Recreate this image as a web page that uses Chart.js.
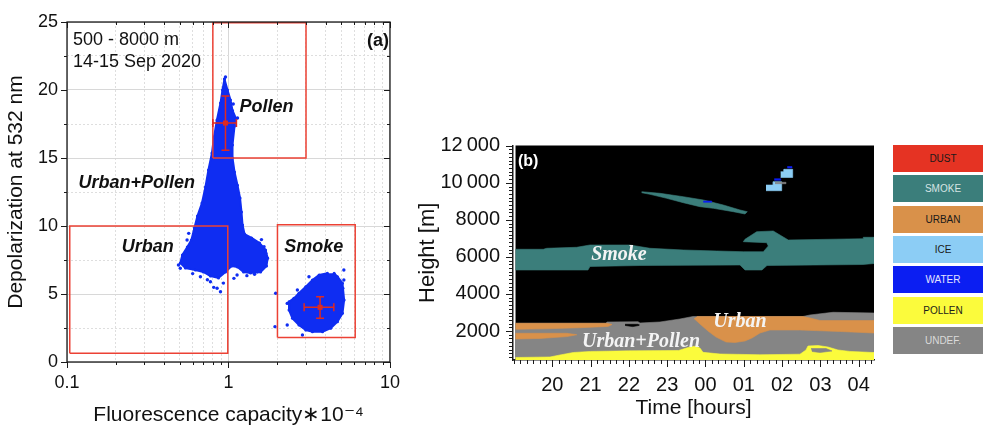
<!DOCTYPE html>
<html>
<head>
<meta charset="utf-8">
<script src="https://cdn.jsdelivr.net/npm/chart.js@4/dist/chart.umd.min.js"></script>
<style>
html,body{margin:0;padding:0;background:#fff;width:983px;height:428px;overflow:hidden;}
#ca{position:absolute;left:0;top:0;}
#cb{position:absolute;left:400px;top:0;}
.lg{position:absolute;left:893px;width:100px;height:27px;font:10px "Liberation Sans",Arial,sans-serif;display:flex;align-items:center;justify-content:center;}
</style>
</head>
<body>
<canvas id="ca" width="404" height="428"></canvas>
<canvas id="cb" width="480" height="428"></canvas>
<div id="legend"></div>
<script>
// ================= Panel (a) data =================
const fluorTickValues = [0.1,0.2,0.3,0.4,0.5,0.6,0.7,0.8,0.9,1,2,3,4,5,6,7,8,9,10];
const fluorMajorTicks = [0.1, 1, 10];
const fluorTickLabels = ['0.1', '1', '10'];
const depolMajorTicks = [0, 5, 10, 15, 20, 25];

// outline of the dense Urban+Pollen point cloud
const urbanPollenCloudX = [0.944,0.986,1.029,1.059,1.113,1.09,1.059,1.059,1.09,1.137,1.179,1.204,1.222,1.257,1.39,1.557,1.697,1.747,1.72,1.58,1.37,1.24,1.137,1.044,0.958,0.867,0.773,0.699,0.624,0.541,0.503,0.518,0.556,0.589,0.615,0.642,0.685,0.72,0.751,0.79,0.813,0.848,0.892,0.918,0.944];
const urbanPollenCloudY = [20.8,20.0,19.26,18.5,17.9,17.35,15.96,15.0,13.97,13.0,12.06,11.03,10.07,9.41,9.12,8.75,8.24,7.65,7.06,6.62,6.54,6.62,6.99,7.06,6.62,6.18,6.32,6.62,6.76,6.91,7.28,7.87,8.46,8.97,9.85,10.74,11.69,12.87,14.12,15.37,16.54,17.79,19.04,20.0,20.8];
// outline of the dense Smoke point cloud
const smokeCloudX = [4.51,4.73,5.08,5.2,5.08,4.73,4.3,3.82,3.31,3.01,2.73,2.49,2.37,2.37,2.54,2.73,3.01,3.31,3.64,4.1];
const smokeCloudY = [6.52,6.27,5.79,4.56,3.58,2.96,2.48,2.23,2.23,2.35,2.72,3.21,3.82,4.43,4.68,5.05,5.54,6.03,6.4,6.52];
// isolated points around the clouds
const strayX = [0.892,0.81,0.773,0.67,0.503,0.49,1.08,1.13,1.66,1.74,1.51,0.554,0.567,0.85,0.958,1.07,1.137,1.96,1.94,2.67,2.31,2.87,5.18,5.18,5.1,3.15,2.31,0.6,1.3,1.6,0.93,0.74,1.45,1.7];
const strayY = [5.17,5.49,5.9,6.27,6.89,7.13,6.15,6.4,8.48,7.62,6.64,8.97,9.46,5.42,20.96,18.97,17.94,5.05,2.6,5.29,2.72,1.99,6.03,6.76,5.42,6.27,4.31,6.5,6.35,9.0,5.8,6.05,6.45,8.0];

// classification boxes
const pollenBoxX = [0.8, 3.02, 3.02, 0.8, 0.8];
const pollenBoxY = [15, 15, 24.95, 24.95, 15];
const urbanBoxX  = [0.104, 0.99, 0.99, 0.104, 0.104];
const urbanBoxY  = [0.65, 0.65, 10, 10, 0.65];
const smokeBoxX  = [2.01, 6.09, 6.09, 2.01, 2.01];
const smokeBoxY  = [1.8, 1.8, 10.1, 10.1, 1.8];

// mean values with spread
const meanX   = [0.958, 3.69];
const meanXLo = [0.80, 2.94];
const meanXHi = [1.12, 4.49];
const meanY   = [17.57, 4.02];
const meanYLo = [15.57, 3.21];
const meanYHi = [19.56, 4.80];

const aLabels = [
  {text: 'Pollen', x: 1.72, y: 18.77},
  {text: 'Urban+Pollen', x: 0.27, y: 13.16},
  {text: 'Urban', x: 0.316, y: 8.48},
  {text: 'Smoke', x: 3.37, y: 8.48}
];

// ================= Panel (b) data =================
const hourTickValues = [20, 21, 22, 23, 24, 25, 26, 27, 28];
const hourTickLabels = ['20', '21', '22', '23', '00', '01', '02', '03', '04'];
const heightTickValues = [2000, 4000, 6000, 8000, 10000, 12000];
const heightTickLabels = ['2000', '4000', '6000', '8000', '10\u2009000', '12\u2009000'];
const imageStartHour = 19.04;

const smokeLayer = [[19.04,6412],[19.765,6412],[19.854,6466],[20.637,6520],[20.984,6644],[22.029,6644],[22.551,6466],[23.42,6374],[24.292,6320],[24.987,6282],[25.509,6282],[25.64,6590],[25.598,6768],[24.987,6822],[25.031,6951],[25.337,7362],[25.77,7399],[26.162,6914],[28.12,6984],[28.12,7059],[28.4,7059],[28.4,5645],[28.112,5591],[25.606,5537],[25.475,5295],[25.031,5295],[24.901,5564],[22.29,5537],[20.984,5483],[20.932,5295],[19.04,5295]];
const smokeStreak = [[22.334,9520],[22.812,9434],[23.42,9250],[23.943,9072],[24.465,8803],[24.901,8533],[25.091,8441],[25.031,8317],[24.726,8441],[24.204,8624],[23.856,8711],[23.42,8927],[22.987,9164],[22.551,9380],[22.334,9466]];
const iceUpper = [[25.963,10287],[26.277,10287],[26.277,10729],[26.05,10729],[26.05,10600],[25.963,10600]];
const iceLower = [[25.58,9574],[25.99,9574],[25.99,10060],[25.77,10060],[25.77,9882],[25.58,9882]];
const waterStreak = [[23.943,8948],[24.162,8948],[24.162,9018],[23.943,9018]];
const waterUpper = [[26.136,10799],[26.259,10799],[26.259,10880],[26.136,10880]];
const waterLower = [[25.796,10135],[25.963,10135],[25.963,10222],[25.796,10222]];
const undefIce = [[25.815,9952],[26.102,9952],[26.102,10028],[25.815,10028]];
const undefLayer = [[19.04,2418],[21.402,2418],[21.428,2488],[22.238,2504],[22.29,2434],[22.812,2488],[23.334,2650],[23.674,2785],[26.546,2785],[26.729,2866],[27.329,3012],[28.4,2974],[28.4,300],[19.04,300]];
const clearWedge = [[21.90,2364],[22.24,2364],[22.26,2300],[22.1,2240],[21.90,2300]];
const urbanUpperLeft = [[19.04,2418],[21.428,2418],[21.559,2353],[21.454,2250],[20.723,2180],[19.809,2120],[19.04,2094]];
const urbanLowerLeft = [[19.04,1878],[20.38,1878],[20.64,1800],[20.38,1700],[19.679,1600],[19.04,1570]];
const urbanRight = [[23.778,2785],[26.546,2785],[26.729,2704],[26.99,2569],[28.4,2569],[28.4,1894],[27.511,1975],[26.467,2056],[25.684,2056],[25.423,1894],[25.214,1625],[25.031,1463],[24.77,1382],[24.536,1409],[24.274,1678],[24.065,2002],[23.856,2380],[23.7,2677]];
const pollenLayer = [[19.04,572],[19.94,599],[20.2,707],[20.55,842],[21.0,900],[22.0,930],[23.3,950],[23.5,1080],[23.6,1140],[23.726,1180],[23.856,1080],[23.935,850],[24.379,760],[25.423,720],[26.467,750],[26.624,977],[26.676,1193],[26.937,1220],[27.198,1139],[27.459,977],[27.773,900],[28.4,840],[28.4,300],[19.04,300]];
const undefWedge = [[26.755,1058],[27.146,1058],[27.303,923],[26.99,842],[26.781,896]];

const bLabels = [
  {text: 'Smoke', h: 21.74, m: 6104},
  {text: 'Urban+Pollen', h: 22.316, m: 1409},
  {text: 'Urban', h: 24.90, m: 2488}
];

const legendNames = ['DUST', 'SMOKE', 'URBAN', 'ICE', 'WATER', 'POLLEN', 'UNDEF.'];

// ================= styles =================
const SANS = "'Liberation Sans', Arial, sans-serif";
const SERIF = "'Liberation Serif', 'Times New Roman', serif";
const BLUE = '#0f2df2';
const BOXRED = '#ec4134';
const ERRRED = '#e02a20';
const C = {
  dust: '#e53323', smoke: '#3b7e7b', urban: '#d9914a', ice: '#8ccdf5',
  water: '#0b1ef2', pollen: '#fbfb3c', undef: '#858585'
};
const legendColors = [C.dust, C.smoke, C.urban, C.ice, C.water, C.pollen, C.undef];
const legendTextColors = ['#1a1a1a', '#d6e4e4', '#1a1a1a', '#1a1a1a', '#e4e4ff', '#1a1a1a', '#dadada'];

const pts = (xs, ys) => xs.map((x, i) => ({x, y: ys[i]}));
const pairs = arr => arr.map(p => ({x: p[0], y: p[1]}));

// ================= Panel (a) chart =================
const decorA = {
  id: 'decorA',
  afterDatasetsDraw(chart) {
    const {ctx, chartArea: a, scales: {x, y}} = chart;
    ctx.save();
    // error bars
    ctx.strokeStyle = ERRRED; ctx.fillStyle = ERRRED; ctx.lineWidth = 1.5;
    for (let i = 0; i < meanX.length; i++) {
      const cx = x.getPixelForValue(meanX[i]), cy = y.getPixelForValue(meanY[i]);
      const x0 = x.getPixelForValue(meanXLo[i]), x1 = x.getPixelForValue(meanXHi[i]);
      const y0 = y.getPixelForValue(meanYLo[i]), y1 = y.getPixelForValue(meanYHi[i]);
      ctx.beginPath();
      ctx.moveTo(x0, cy); ctx.lineTo(x1, cy);
      ctx.moveTo(cx, y0); ctx.lineTo(cx, y1);
      ctx.moveTo(x0, cy - 4); ctx.lineTo(x0, cy + 4);
      ctx.moveTo(x1, cy - 4); ctx.lineTo(x1, cy + 4);
      ctx.moveTo(cx - 4, y0); ctx.lineTo(cx + 4, y0);
      ctx.moveTo(cx - 4, y1); ctx.lineTo(cx + 4, y1);
      ctx.stroke();
      ctx.fillRect(cx - 2.5, cy - 2.5, 5, 5);
    }
    // tick marks and frame
    ctx.strokeStyle = '#1a1a1a'; ctx.lineWidth = 1;
    ctx.beginPath();
    x.ticks.forEach(t => {
      const px = Math.round(x.getPixelForValue(t.value)) + 0.5;
      const L = fluorMajorTicks.includes(t.value) ? 6 : 3;
      ctx.moveTo(px, a.bottom); ctx.lineTo(px, a.bottom + L);
      ctx.moveTo(px, a.top); ctx.lineTo(px, a.top + L);
    });
    y.ticks.forEach(t => {
      const py = Math.round(y.getPixelForValue(t.value)) + 0.5;
      const L = depolMajorTicks.includes(t.value) ? 6 : 3;
      ctx.moveTo(a.left - L, py); ctx.lineTo(a.left, py);
      ctx.moveTo(a.right - L, py); ctx.lineTo(a.right, py);
    });
    ctx.stroke();
    ctx.lineWidth = 1.3;
    ctx.strokeRect(a.left, a.top, a.right - a.left, a.bottom - a.top);
    // texts
    ctx.fillStyle = '#111';
    ctx.textBaseline = 'middle';
    ctx.textAlign = 'center';
    ctx.font = 'italic bold 18px ' + SANS;
    aLabels.forEach(l => ctx.fillText(l.text, x.getPixelForValue(l.x), y.getPixelForValue(l.y)));
    ctx.textAlign = 'left';
    ctx.font = '18px ' + SANS;
    ctx.fillText('500 - 8000 m', a.left + 6, a.top + 18);
    ctx.fillText('14-15 Sep 2020', a.left + 6, a.top + 40);
    ctx.textAlign = 'center';
    ctx.font = 'bold 18px ' + SANS;
    ctx.fillText('(a)', a.right - 12, a.top + 19);
    ctx.restore();
  }
};

const isMajorX = c => c.tick && fluorMajorTicks.includes(c.tick.value);
const isMajorY = c => c.tick && depolMajorTicks.includes(c.tick.value);

new Chart(document.getElementById('ca'), {
  type: 'scatter',
  data: {
    datasets: [
      {data: pts(pollenBoxX, pollenBoxY), showLine: true, fill: false, borderColor: BOXRED, borderWidth: 1.5, pointRadius: 0, order: 1},
      {data: pts(urbanBoxX, urbanBoxY), showLine: true, fill: false, borderColor: BOXRED, borderWidth: 1.5, pointRadius: 0, order: 1},
      {data: pts(smokeBoxX, smokeBoxY), showLine: true, fill: false, borderColor: BOXRED, borderWidth: 1.5, pointRadius: 0, order: 1},
      {data: pts(strayX, strayY), showLine: false, pointRadius: 1.7, pointBackgroundColor: BLUE, pointBorderWidth: 0, order: 2},
      {data: pts(urbanPollenCloudX, urbanPollenCloudY), showLine: true, fill: 'shape', backgroundColor: BLUE, borderColor: BLUE, borderWidth: 2, pointRadius: 1.5, pointBackgroundColor: BLUE, pointBorderWidth: 0, order: 3},
      {data: pts(smokeCloudX, smokeCloudY), showLine: true, fill: 'shape', backgroundColor: BLUE, borderColor: BLUE, borderWidth: 2, pointRadius: 1.5, pointBackgroundColor: BLUE, pointBorderWidth: 0, order: 3}
    ]
  },
  options: {
    responsive: false, animation: false, events: [],
    layout: {padding: {left: 0, right: 11, top: 22, bottom: 0}},
    plugins: {legend: {display: false}, tooltip: {enabled: false}},
    scales: {
      x: {
        type: 'logarithmic', min: 0.1, max: 10, position: 'bottom',
        afterBuildTicks: s => { s.ticks = fluorTickValues.map(v => ({value: v, major: fluorMajorTicks.includes(v)})); },
        afterFit: s => { s.height = 66; },
        ticks: {
          autoSkip: false, maxRotation: 0, padding: 4, color: '#111', font: {family: SANS, size: 18},
          callback: v => { const i = fluorMajorTicks.indexOf(v); return i >= 0 ? fluorTickLabels[i] : ''; }
        },
        grid: {color: c => isMajorX(c) ? '#d8d8d8' : '#dedede', lineWidth: 1, drawTicks: true, tickLength: 6, tickColor: 'rgba(0,0,0,0)'},
        border: {display: false, dash: c => isMajorX(c) ? [] : [2, 2]},
        title: {display: true, text: 'Fluorescence capacity\u221710\u207B\u2074', color: '#111', font: {family: SANS, size: 21}, padding: {top: 0, bottom: 0}}
      },
      y: {
        type: 'linear', min: 0, max: 25,
        afterFit: s => { s.width = 67; },
        ticks: {
          stepSize: 2.5, autoSkip: false, padding: 3, color: '#111', font: {family: SANS, size: 18},
          callback: v => depolMajorTicks.includes(v) ? String(v) : ''
        },
        grid: {color: c => isMajorY(c) ? '#d8d8d8' : '#dedede', lineWidth: 1, drawTicks: true, tickLength: 6, tickColor: 'rgba(0,0,0,0)'},
        border: {display: false, dash: c => isMajorY(c) ? [] : [2, 2]},
        title: {display: true, text: 'Depolarization at 532 nm', color: '#111', font: {family: SANS, size: 21}, padding: {top: 4, bottom: 0}}
      }
    }
  },
  plugins: [decorA]
});

// ================= Panel (b) chart =================
const timeTicks = [];
for (let k = 114; k <= 170; k++) timeTicks.push(k / 6);
const heightTicks = [];
for (let h = 600; h <= 12000; h += 200) heightTicks.push(h);

const decorB = {
  id: 'decorB',
  beforeDatasetsDraw(chart) {
    const {ctx, chartArea: a, scales: {x}} = chart;
    const x0 = x.getPixelForValue(imageStartHour);
    ctx.save();
    ctx.fillStyle = '#000';
    ctx.fillRect(x0, a.top, a.right - x0, a.bottom - a.top - 1);
    ctx.restore();
  },
  afterDatasetsDraw(chart) {
    const {ctx, chartArea: a, scales: {x, y}} = chart;
    ctx.save();
    ctx.fillStyle = '#f4f4f4';
    ctx.textAlign = 'center'; ctx.textBaseline = 'middle';
    ctx.font = 'italic bold 20px ' + SERIF;
    bLabels.forEach(l => ctx.fillText(l.text, x.getPixelForValue(l.h), y.getPixelForValue(l.m)));
    ctx.fillStyle = '#fff';
    ctx.textAlign = 'left';
    ctx.font = 'bold 16px ' + SANS;
    ctx.fillText('(b)', a.left + 5, a.top + 16);
    ctx.restore();
  },
  afterDraw(chart) {
    const {ctx, chartArea: a, scales: {x, y}} = chart;
    ctx.save();
    ctx.strokeStyle = '#1a1a1a'; ctx.lineWidth = 1;
    ctx.beginPath();
    x.ticks.forEach(t => {
      const px = Math.round(x.getPixelForValue(t.value)) + 0.5;
      const L = hourTickValues.some(h => Math.abs(h - t.value) < 1e-6) ? 7 : 4;
      ctx.moveTo(px, a.bottom); ctx.lineTo(px, a.bottom + L);
    });
    y.ticks.forEach(t => {
      const py = Math.round(y.getPixelForValue(t.value)) + 0.5;
      const L = heightTickValues.includes(t.value) ? 7 : 4;
      ctx.moveTo(a.left - L, py); ctx.lineTo(a.left, py);
    });
    ctx.stroke();
    ctx.restore();
  }
};

const area = (arr, color, order) => ({
  data: pairs(arr), showLine: true, fill: 'shape', backgroundColor: color,
  borderColor: color, borderWidth: 0.6, pointRadius: 0, order
});

new Chart(document.getElementById('cb'), {
  type: 'scatter',
  data: {
    datasets: [
      area(waterStreak, C.water, 1),
      area(waterUpper, C.water, 1),
      area(waterLower, C.water, 1),
      area(undefIce, C.undef, 2),
      area(iceUpper, C.ice, 3),
      area(iceLower, C.ice, 3),
      area(smokeStreak, C.smoke, 4),
      area(smokeLayer, C.smoke, 4),
      area(undefWedge, C.undef, 5),
      area(clearWedge, '#000', 5),
      area(pollenLayer, C.pollen, 6),
      area(urbanUpperLeft, C.urban, 7),
      area(urbanLowerLeft, C.urban, 7),
      area(urbanRight, C.urban, 7),
      area(undefLayer, C.undef, 8)
    ]
  },
  options: {
    responsive: false, animation: false, events: [],
    layout: {padding: {left: 0, right: 6, top: 145.5, bottom: 0}},
    plugins: {legend: {display: false}, tooltip: {enabled: false}},
    scales: {
      x: {
        type: 'linear', min: 18.974, max: 28.4,
        afterBuildTicks: s => { s.ticks = timeTicks.map(v => ({value: v})); },
        afterFit: s => { s.height = 68; },
        ticks: {
          autoSkip: false, maxRotation: 0, padding: 6, color: '#111', font: {family: SANS, size: 20},
          callback: v => { const i = hourTickValues.findIndex(h => Math.abs(h - v) < 1e-6); return i >= 0 ? hourTickLabels[i] : ''; }
        },
        grid: {drawOnChartArea: false, drawTicks: true, tickLength: 7, tickColor: 'rgba(0,0,0,0)'},
        border: {display: true, color: '#1a1a1a', width: 1.5},
        title: {display: true, text: 'Time [hours]', color: '#111', font: {family: SANS, size: 21}, padding: {top: 0, bottom: 7}}
      },
      y: {
        type: 'linear', min: 437, max: 12014,
        afterBuildTicks: s => { s.ticks = heightTicks.map(v => ({value: v})); },
        afterFit: s => { s.width = 113; },
        ticks: {
          autoSkip: false, padding: 6, color: '#111', font: {family: SANS, size: 20},
          callback: v => { const i = heightTickValues.indexOf(v); return i >= 0 ? heightTickLabels[i] : ''; }
        },
        grid: {drawOnChartArea: false, drawTicks: true, tickLength: 7, tickColor: 'rgba(0,0,0,0)'},
        border: {display: true, color: '#1a1a1a', width: 1.5},
        title: {display: true, text: 'Height [m]', color: '#111', font: {family: SANS, size: 22}, padding: {top: 15, bottom: 0}}
      }
    }
  },
  plugins: [decorB]
});

// ================= legend (panel b) =================
const legendEl = document.getElementById('legend');
legendNames.forEach((name, i) => {
  const d = document.createElement('div');
  d.className = 'lg';
  d.style.top = (145 + i * 30.3) + 'px';
  d.style.background = legendColors[i];
  d.style.color = legendTextColors[i];
  d.textContent = name;
  legendEl.appendChild(d);
});
</script>
</body>
</html>
